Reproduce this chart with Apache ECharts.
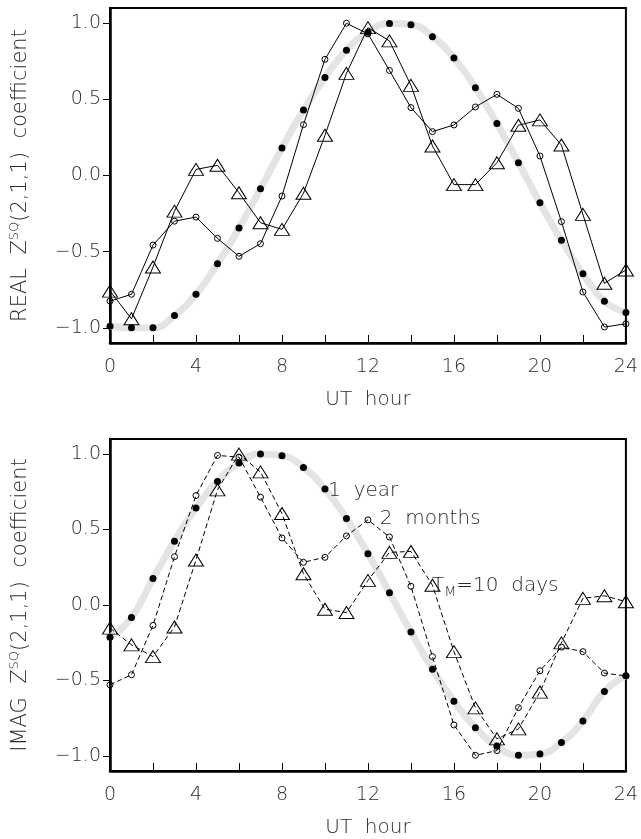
<!DOCTYPE html>
<html>
<head>
<meta charset="utf-8">
<script src="https://cdn.jsdelivr.net/npm/echarts@6/dist/echarts.min.js"></script>
<style>
  html, body { margin: 0; padding: 0; background: #fff; }
  #chart { width: 641px; height: 839px; }
</style>
</head>
<body>
<div id="chart"></div>
<script>
// UT hour of each sample
const hours = [0, 1, 2, 3, 4, 5, 6, 7, 8, 9, 10, 11, 12, 13, 14, 15, 16, 17, 18, 19, 20, 21, 22, 23, 24];

// Real part of Z^SQ(2,1,1) for the three averaging windows
const realYear   = [-0.99, -1.0, -1.0, -0.92, -0.78, -0.58, -0.345, -0.087, 0.18, 0.43, 0.643, 0.823, 0.94, 0.998, 0.99, 0.912, 0.772, 0.577, 0.341, 0.084, -0.179, -0.426, -0.645, -0.825, -0.90];
const realMonths = [-0.825, -0.78, -0.457, -0.30, -0.273, -0.413, -0.531, -0.448, -0.135, 0.334, 0.763, 1.0, 0.93, 0.69, 0.446, 0.288, 0.332, 0.45, 0.533, 0.441, 0.128, -0.303, -0.765, -0.995, -0.974];
const realDays   = [-0.759, -0.941, -0.601, -0.234, 0.04, 0.067, -0.113, -0.31, -0.354, -0.117, 0.264, 0.671, 0.971, 0.884, 0.592, 0.194, -0.06, -0.06, 0.084, 0.33, 0.365, 0.2, -0.255, -0.708, -0.621];

// Imaginary part of Z^SQ(2,1,1)
const imagYear   = [-0.214, -0.083, 0.176, 0.423, 0.643, 0.819, 0.941, 1.0, 0.989, 0.911, 0.769, 0.573, 0.34, 0.081, -0.179, -0.425, -0.638, -0.813, -0.935, -0.996, -0.987, -0.911, -0.769, -0.573, -0.468];
const imagMonths = [-0.529, -0.462, -0.135, 0.32, 0.725, 0.991, 0.98, 0.715, 0.444, 0.283, 0.316, 0.458, 0.564, 0.451, 0.124, -0.342, -0.795, -0.996, -0.965, -0.68, -0.436, -0.279, -0.309, -0.451, -0.47];
const imagDays   = [-0.153, -0.264, -0.342, -0.146, 0.298, 0.763, 1.0, 0.882, 0.606, 0.207, -0.028, -0.05, 0.163, 0.349, 0.355, 0.131, -0.309, -0.682, -0.887, -0.821, -0.577, -0.251, 0.044, 0.061, 0.022];

// Axis ticks and labels
const xTicks = [0, 2, 4, 6, 8, 10, 12, 14, 16, 18, 20, 22, 24];
const xLabels = [0, 4, 8, 12, 16, 20, 24];
const yTicks = [-1.0, -0.5, 0.0, 0.5, 1.0];

// Curve legend written inside the lower panel
const noteText = ['{t|1  year}', '{t|2  months}', '{t|T}{sub|M}{t|=10  days}'];
const noteHour = [10.15, 12.55, 14.98];
const noteValue = [0.755, 0.57, 0.125];

const FONT = 'DejaVu Sans';
const TXT = '#2a2a2a';
const WEIGHT = 200;

const pairs = (ys) => hours.map((h, i) => [h, ys[i]]);

function xAxisFor(gridIndex) {
  return {
    type: 'value', gridIndex, min: 0, max: 24,
    name: 'UT  hour', nameLocation: 'middle', nameGap: 47,
    nameTextStyle: { fontFamily: FONT, fontWeight: WEIGHT, fontSize: 20, color: TXT },
    axisLine: { show: true, onZero: false, lineStyle: { color: '#000', width: 2.5 } },
    axisTick: { show: true, inside: true, length: 8, customValues: xTicks, lineStyle: { color: '#000', width: 1 } },
    axisLabel: { customValues: xLabels, margin: 15, fontFamily: FONT, fontWeight: WEIGHT, fontSize: 19, color: TXT },
    splitLine: { show: false }
  };
}

function yAxisFor(gridIndex, prefix) {
  return {
    type: 'value', gridIndex, min: -1.1, max: 1.1,
    name: '{n|' + prefix + '  Z}{sup|SQ}{n|(2,1,1)  coefficient}',
    nameLocation: 'middle', nameGap: 76, nameRotate: 90,
    nameTextStyle: {
      rich: {
        n: { fontFamily: FONT, fontWeight: WEIGHT, fontSize: 21, color: TXT, lineHeight: 26, verticalAlign: 'middle' },
        sup: { fontFamily: FONT, fontWeight: WEIGHT, fontSize: 13, color: TXT, lineHeight: 12, verticalAlign: 'top' }
      }
    },
    axisLine: { show: true, onZero: false, lineStyle: { color: '#000', width: 2.5 } },
    axisTick: { show: true, inside: false, length: 7, customValues: yTicks, lineStyle: { color: '#000', width: 1 } },
    axisLabel: {
      customValues: yTicks, margin: 9, fontFamily: FONT, fontWeight: WEIGHT, fontSize: 19, color: TXT,
      formatter: (v) => (v < 0 ? '\u2212' : '') + Math.abs(v).toFixed(1)
    },
    splitLine: { show: false }
  };
}

function panelSeries(idx, year, months, days, dashed) {
  const lineType = dashed ? [5, 3] : 'solid';
  return [
    {
      type: 'line', xAxisIndex: idx, yAxisIndex: idx, data: pairs(year),
      smooth: 0.5, showSymbol: false, silent: true, z: 1,
      lineStyle: { color: '#e4e4e4', width: 7 }
    },
    {
      type: 'scatter', xAxisIndex: idx, yAxisIndex: idx, data: pairs(year),
      symbol: 'circle', symbolSize: 7, z: 3,
      itemStyle: { color: '#000', opacity: 1 }
    },
    {
      type: 'line', xAxisIndex: idx, yAxisIndex: idx, data: pairs(months),
      symbol: 'circle', symbolSize: 6, showAllSymbol: true, z: 4,
      lineStyle: { color: '#000', width: 1, type: lineType },
      itemStyle: { color: 'transparent', borderColor: '#000', borderWidth: 1 }
    },
    {
      type: 'line', xAxisIndex: idx, yAxisIndex: idx, data: pairs(days),
      symbol: 'triangle', symbolSize: [15, 12], showAllSymbol: true, z: 5,
      lineStyle: { color: '#000', width: 1, type: lineType },
      itemStyle: { color: 'transparent', borderColor: '#000', borderWidth: 1 }
    }
  ];
}

const chart = echarts.init(document.getElementById('chart'), null, { renderer: 'canvas' });

chart.setOption({
  animation: false,
  backgroundColor: '#fff',
  grid: [
    { left: 100, right: 13, top: 8, height: 335, show: true, borderColor: '#000', borderWidth: 2, backgroundColor: 'transparent' },
    { left: 100, right: 13, top: 439, height: 336, show: true, borderColor: '#000', borderWidth: 2, backgroundColor: 'transparent' }
  ],
  xAxis: [xAxisFor(0), xAxisFor(1)],
  yAxis: [yAxisFor(0, 'REAL'), yAxisFor(1, 'IMAG')],
  series: [
    ...panelSeries(0, realYear, realMonths, realDays, false),
    ...panelSeries(1, imagYear, imagMonths, imagDays, true),
    {
      type: 'scatter', xAxisIndex: 1, yAxisIndex: 1, symbolSize: 0, silent: true, z: 6,
      itemStyle: { opacity: 1 },
      data: noteText.map((t, i) => ({ value: [noteHour[i], noteValue[i]], name: t })),
      label: {
        show: true, position: 'right', distance: 0, color: TXT, opacity: 1,
        formatter: (p) => p.name,
        rich: {
          t: { fontFamily: FONT, fontWeight: WEIGHT, fontSize: 20, color: TXT, lineHeight: 26, verticalAlign: 'middle' },
          sub: { fontFamily: FONT, fontWeight: WEIGHT, fontSize: 14, color: TXT, lineHeight: 14, verticalAlign: 'bottom' }
        }
      }
    }
  ]
});
</script>
</body>
</html>
